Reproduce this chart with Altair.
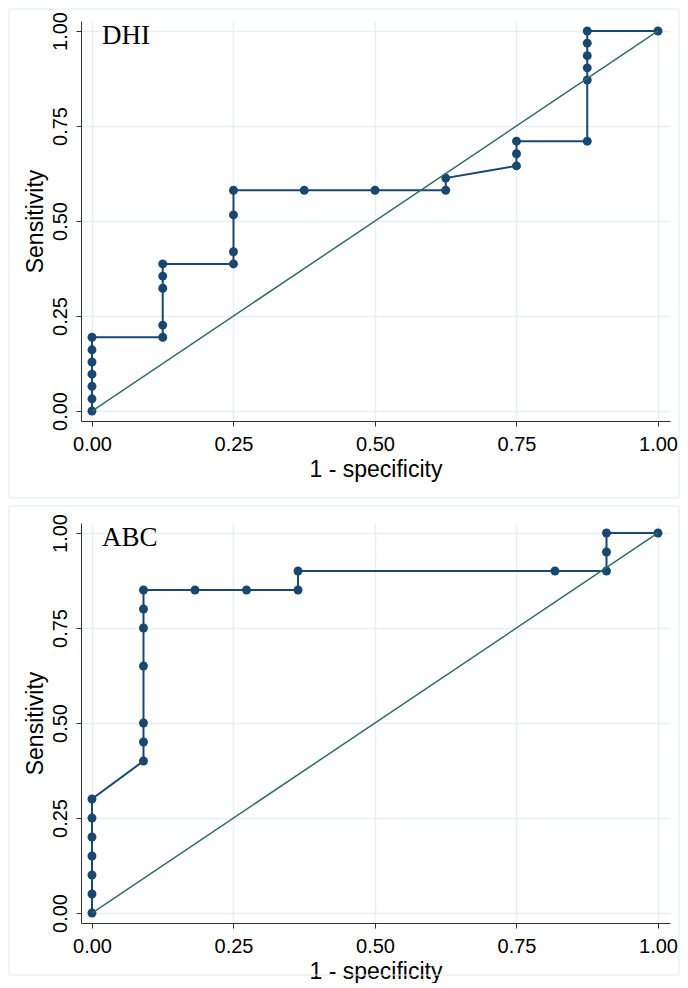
import altair as alt
import pandas as pd

# ---- data ----
dhi_fpr = [0, 0, 0, 0, 0, 0, 0,
           0.125, 0.125, 0.125, 0.125, 0.125,
           0.25, 0.25, 0.25, 0.25,
           0.375, 0.5, 0.625, 0.625,
           0.75, 0.75, 0.75,
           0.875, 0.875, 0.875, 0.875, 0.875, 0.875,
           1]
dhi_sens = [0, 0.032, 0.065, 0.097, 0.129, 0.161, 0.194,
            0.194, 0.226, 0.323, 0.355, 0.387,
            0.387, 0.419, 0.516, 0.581,
            0.581, 0.581, 0.581, 0.613,
            0.645, 0.677, 0.710,
            0.710, 0.871, 0.903, 0.935, 0.968, 1.0,
            1.0]

abc_fpr = [0, 0, 0, 0, 0, 0, 0,
           0.091, 0.091, 0.091, 0.091, 0.091, 0.091, 0.091,
           0.182, 0.273, 0.364, 0.364,
           0.818, 0.909, 0.909, 0.909,
           1]
abc_sens = [0, 0.05, 0.10, 0.15, 0.20, 0.25, 0.30,
            0.40, 0.45, 0.50, 0.65, 0.75, 0.80, 0.85,
            0.85, 0.85, 0.85, 0.90,
            0.90, 0.90, 0.95, 1.0,
            1.0]

diag = [0, 1]
tick_vals = [0, 0.25, 0.5, 0.75, 1]

NAVY = "#1a476f"
GREEN = "#2e6e60"
FRAME = "#e3ebef"
W, H = 589, 400


def panel(fpr, sens, label, frame_top, frame_bottom):
    df = pd.DataFrame({"fpr": fpr, "sens": sens, "idx": list(range(len(fpr)))})
    xs = alt.Scale(domain=[-0.0194, 1.0212], nice=False, zero=False)
    ys = alt.Scale(domain=[-0.0263, 1.0263], nice=False, zero=False)
    xax = alt.Axis(values=tick_vals, format=".2f", title="1 - specificity",
                   labelBaseline="alphabetic", labelPadding=24, labelFlush=False,
                   titleX=W / 2, titleY=55, titleAlign="center",
                   titleBaseline="alphabetic")
    yax = alt.Axis(values=tick_vals, format=".2f", title="Sensitivity",
                   labelAngle=270, labelAlign="center", labelBaseline="alphabetic",
                   labelPadding=10, labelFlush=False,
                   titleAngle=270, titleX=-39, titleY=H / 2, titleAlign="center",
                   titleBaseline="alphabetic")
    x = alt.X("fpr:Q", scale=xs, axis=xax)
    y = alt.Y("sens:Q", scale=ys, axis=yax)

    frame = alt.Chart(alt.Data(values=[{}])).mark_rect(
        fillOpacity=0, stroke=FRAME, strokeWidth=1
    ).encode(x=alt.value(-72), x2=alt.value(598),
             y=alt.value(frame_top), y2=alt.value(frame_bottom))

    base = alt.Chart(df)
    line = base.mark_line(color=NAVY, strokeWidth=2).encode(
        x=x, y=y, order=alt.Order("idx:Q"))
    pts = base.mark_circle(color=NAVY, size=80, opacity=1).encode(x=x, y=y)

    ddf = pd.DataFrame({"fpr": diag, "sens": diag})
    dline = alt.Chart(ddf).mark_line(color=GREEN, strokeWidth=1.5).encode(
        x=alt.X("fpr:Q", scale=xs), y=alt.Y("sens:Q", scale=ys))

    txt = alt.Chart(alt.Data(values=[{}])).mark_text(
        text=label, font="Liberation Serif", fontSize=27, align="left",
        baseline="alphabetic", color="black"
    ).encode(x=alt.value(21), y=alt.value(23))

    return alt.layer(frame, line, pts, dline, txt).properties(width=W, height=H)


top = panel(dhi_fpr, dhi_sens, "DHI", -12, 477)
bottom = panel(abc_fpr, abc_sens, "ABC", -17, 452)

chart = alt.vconcat(top, bottom, spacing=102, bounds="flush").properties(
    padding=0
).configure_view(stroke=None).configure_axis(
    domainColor="#333333", domainWidth=1, tickColor="#333333", tickSize=5,
    tickWidth=1, gridColor="#e8eff2", gridWidth=1.5,
    labelFont="Liberation Sans", labelFontSize=20, labelColor="black",
    titleFont="Liberation Sans", titleFontSize=23, titleFontWeight="normal",
    titleColor="black"
)

chart.save("out.html", embed_options={"renderer": "svg", "actions": False})
